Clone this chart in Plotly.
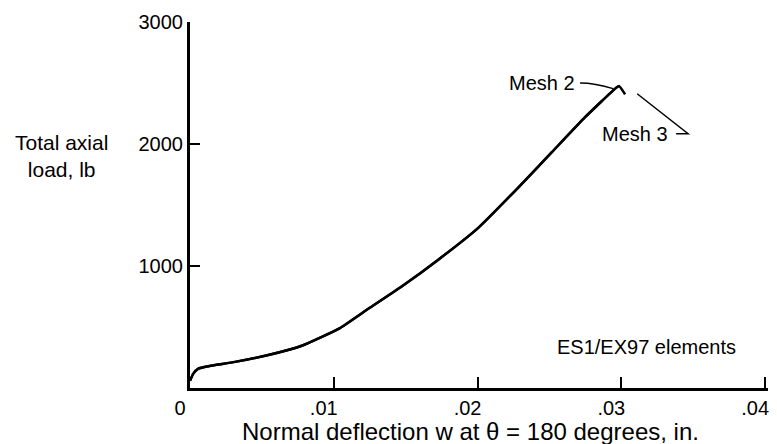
import plotly.graph_objects as go

# Data
mesh2_w = [0.0, 0.00023, 0.00058, 0.00127, 0.00313, 0.00545, 0.00777, 0.0104, 0.0124,
           0.01472, 0.01727, 0.02005, 0.02283, 0.02515, 0.02748, 0.02957, 0.02984, 0.03026]
mesh2_load = [60, 118, 159, 179, 214, 270, 346, 489, 649,
              832, 1052, 1313, 1643, 1931, 2220, 2454, 2475, 2407]

mesh3_w = [0.0, 0.00023, 0.00058, 0.00127, 0.00313, 0.00545, 0.00777, 0.0104, 0.0124,
           0.01472, 0.01727, 0.02005, 0.02283, 0.02515, 0.02748, 0.02957, 0.02984]
mesh3_load = [60, 118, 159, 179, 214, 270, 346, 489, 649,
              832, 1052, 1313, 1643, 1931, 2220, 2454, 2475]

x_ticks = [0, 0.01, 0.02, 0.03, 0.04]
x_ticklabels = ["0", ".01", ".02", ".03", ".04"]
y_ticks = [1000, 2000, 3000]
y_ticklabels = ["1000", "2000", "3000"]

FONT = "Liberation Sans, Arial, Helvetica, sans-serif"
fs = 20

fig = go.Figure()
fig.add_trace(go.Scatter(x=mesh3_w, y=mesh3_load, mode="lines", name="Mesh 3",
                         line=dict(color="black", width=2.5, shape="spline", smoothing=0.4)))
fig.add_trace(go.Scatter(x=mesh2_w, y=mesh2_load, mode="lines", name="Mesh 2",
                         line=dict(color="black", width=2.5, shape="spline", smoothing=0.4)))

# leader lines
fig.add_shape(type="path", xref="x", yref="y",
              path="M 0.02713 2500 Q 0.02817 2500 0.02943 2454",
              line=dict(color="black", width=1.5))
fig.add_shape(type="path", xref="x", yref="y",
              path="M 0.03110 2412 L 0.03464 2085 L 0.03381 2085",
              line=dict(color="black", width=1.5))

fig.add_annotation(x=0.02692, y=2497, xref="x", yref="y", text="Mesh 2", showarrow=False,
                   xanchor="right", yanchor="middle", font=dict(size=fs, color="black", family=FONT))
fig.add_annotation(x=0.03339, y=2085, xref="x", yref="y", text="Mesh 3", showarrow=False,
                   xanchor="right", yanchor="middle", font=dict(size=fs, color="black", family=FONT))
fig.add_annotation(x=0.02539, y=338, xref="x", yref="y", text="ES1/EX97 elements", showarrow=False,
                   xanchor="left", yanchor="middle", font=dict(size=fs, color="black", family=FONT))

fig.add_annotation(x=0.485, y=-0.12, xref="paper", yref="paper",
                   text="Normal deflection w at θ = 180 degrees, in.", showarrow=False,
                   xanchor="center", yanchor="middle", font=dict(size=24, color="black", family=FONT))
fig.add_annotation(x=-0.2226, y=0.6346, xref="paper", yref="paper",
                   text="Total axial<br>load, lb", showarrow=False, align="center",
                   xanchor="center", yanchor="middle", font=dict(size=21, color="black", family=FONT))

fig.update_layout(
    width=769, height=436,
    margin=dict(l=182, r=9, t=14, b=56, autoexpand=False),
    paper_bgcolor="white", plot_bgcolor="white",
    showlegend=False,
    font=dict(family=FONT, size=fs, color="black"),
    xaxis=dict(range=[0, 0.0402], tickvals=x_ticks, ticktext=x_ticklabels,
               showgrid=False, zeroline=False, showline=True, linecolor="black", linewidth=3,
               ticks="inside", ticklen=11, tickwidth=2, tickcolor="black",
               ticklabeloverflow="allow", automargin=False, ticklabelshift=-10,
               tickfont=dict(size=fs, color="black", family=FONT)),
    yaxis=dict(range=[0, 3000.01], tickvals=y_ticks, ticktext=y_ticklabels,
               showgrid=False, zeroline=False, showline=True, linecolor="black", linewidth=3,
               ticks="inside", ticklen=10, tickwidth=2, tickcolor="black", automargin=False,
               tickfont=dict(size=fs, color="black", family=FONT)),
)

fig.write_html("out.html")
